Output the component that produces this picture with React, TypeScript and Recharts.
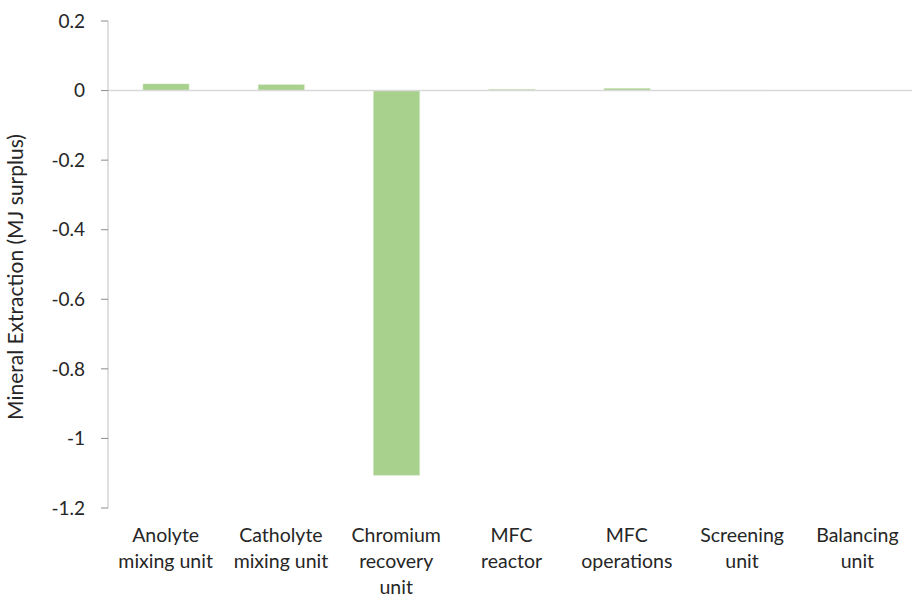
import { Bar, BarChart, ReferenceLine, XAxis, YAxis } from "recharts";

const units = [
  "Anolyte\nmixing unit",
  "Catholyte\nmixing unit",
  "Chromium\nrecovery\nunit",
  "MFC\nreactor",
  "MFC\noperations",
  "Screening\nunit",
  "Balancing\nunit",
];
const extraction = [0.019, 0.017, -1.106, 0.003, 0.006, 0.0005, 0.0003];
const yTicks = [0.2, 0, -0.2, -0.4, -0.6, -0.8, -1, -1.2];

const data = units.map((unit, i) => ({ unit, value: extraction[i] }));

const FONT = "Lato, 'Open Sans', sans-serif";
const TEXT = "#262626";

function CategoryTick({ x, y, payload }: any) {
  const lines = String(payload.value).split("\n");
  return (
    <text x={x} y={y} textAnchor="middle" fill={TEXT} fontSize={19.5} fontFamily={FONT}>
      {lines.map((line, i) => (
        <tspan key={i} x={x} dy={26}>
          {line}
        </tspan>
      ))}
    </text>
  );
}

export default function App() {
  return (
    <div style={{ position: "fixed", left: 0, top: 0, width: 912, height: 598, overflow: "hidden", background: "#fff" }}>
      <BarChart
        width={915}
        height={598}
        data={data}
        margin={{ top: 21, right: 0, bottom: 0, left: 0 }}
        barSize={46}
      >
        <XAxis
          dataKey="unit"
          axisLine={false}
          tickLine={false}
          height={90}
          interval={0}
          tick={<CategoryTick />}
        />
        <YAxis
          type="number"
          domain={[-1.2, 0.2]}
          ticks={yTicks}
          width={108}
          axisLine={{ stroke: "#bfbfbf" }}
          tickLine={{ stroke: "#8c8c8c" }}
          tickSize={7}
          tickMargin={16}
          tick={{ fill: TEXT, fontSize: 19, fontFamily: FONT }}
          label={{
            content: () => (
              <text
                x={23}
                y={277}
                transform="rotate(-90 23 277)"
                textAnchor="middle"
                fill={TEXT}
                fontSize={21}
                fontFamily={FONT}
              >
                Mineral Extraction (MJ surplus)
              </text>
            ),
          }}
        />
        <ReferenceLine y={0} stroke="#d9d9d9" strokeWidth={1.5} />
        <Bar dataKey="value" fill="#a9d18e" stroke="#c5e0b4" strokeWidth={0.5} isAnimationActive={false} />
      </BarChart>
    </div>
  );
}
